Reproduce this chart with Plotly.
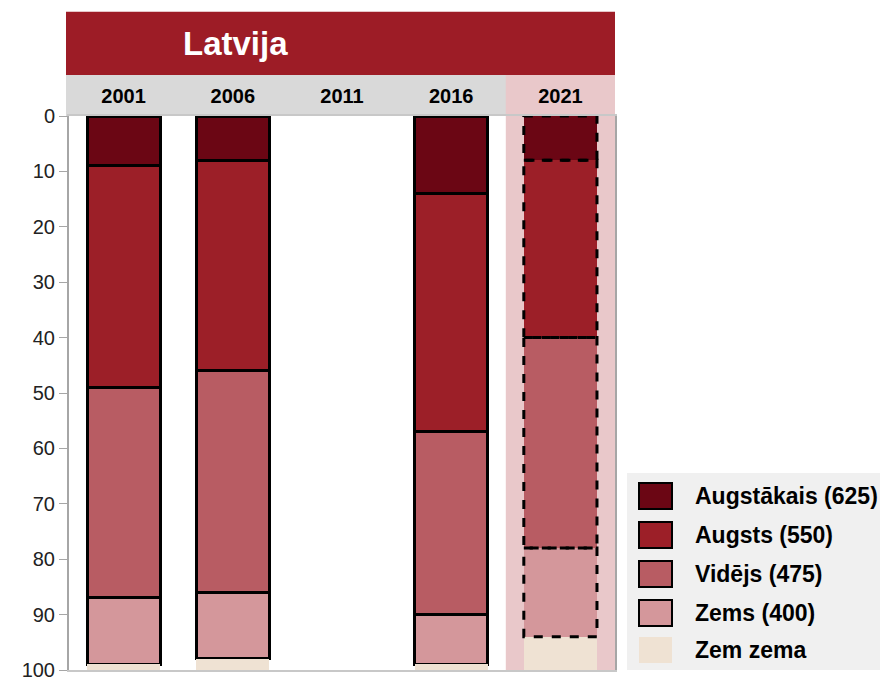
import plotly.graph_objects as go

years = ["2001", "2006", "2011", "2016", "2021"]
series_names = ["Augstākais (625)", "Augsts (550)", "Vidējs (475)", "Zems (400)", "Zem zema"]
augstakais = [9, 8, None, 14, 8]
augsts = [40, 38, None, 43, 32]
videjs = [38, 40, None, 33, 38]
zems = [12, 12, None, 9, 16]
zem_zema = [1, 2, None, 1, 6]
y_ticks = [0, 10, 20, 30, 40, 50, 60, 70, 80, 90, 100]

colors = ["#6b0614", "#9c1f28", "#b85c63", "#d4979b", "#efe2d3"]
series = [augstakais, augsts, videjs, zems, zem_zema]
dashed_year = "2021"
bar_w = 0.67

fig = go.Figure()
for name, vals, col in zip(series_names, series, colors):
    solid = [v if y != dashed_year else None for y, v in zip(years, vals)]
    dashed = [v if y == dashed_year else None for y, v in zip(years, vals)]
    has_border = name != "Zem zema"
    fig.add_trace(go.Bar(
        x=years, y=solid, name=name, marker_color=col, width=bar_w,
        marker_line=dict(color="#000000", width=3 if has_border else 0),
        showlegend=False, hoverinfo="skip"))
    fig.add_trace(go.Bar(
        x=years, y=dashed, name=name, marker_color=col, width=bar_w,
        marker_line=dict(width=0), showlegend=False, hoverinfo="skip"))

shapes = []
idx = years.index(dashed_year)
shapes.append(dict(type="rect", xref="x", yref="y", x0=idx - 0.5, x1=idx + 0.5,
                   y0=0, y1=100, fillcolor="#e9c8ca", line_width=0, layer="below"))
base = 0
for name, vals in zip(series_names, series):
    v = vals[idx]
    if name != "Zem zema":
        shapes.append(dict(type="rect", xref="x", yref="y",
                           x0=idx - bar_w / 2, x1=idx + bar_w / 2, y0=base, y1=base + v,
                           line=dict(color="#000000", width=3, dash="dash"),
                           fillcolor="rgba(0,0,0,0)", layer="above"))
    base += v

# header bands
shapes.append(dict(type="rect", xref="paper", yref="paper", x0=-0.0055, x1=1,
                   y0=1.0, y1=1.074, fillcolor="#d9d9d9", line_width=0, layer="below"))
shapes.append(dict(type="rect", xref="x", yref="paper", x0=idx - 0.5, x1=idx + 0.5,
                   y0=1.0, y1=1.074, fillcolor="#e9c8ca", line_width=0, layer="below"))
shapes.append(dict(type="rect", xref="paper", yref="paper", x0=-0.0055, x1=1,
                   y0=1.074, y1=1.188, fillcolor="#9d1c26", line_width=0, layer="below"))

annotations = [dict(text="Latvija", xref="paper", yref="paper", x=0.305, y=1.131,
                    xanchor="center", yanchor="middle", showarrow=False,
                    font=dict(family="Liberation Sans", size=33, color="white", weight="bold"))]

# manual legend (page pixel positions converted to paper coords)
lx0 = (627 - 69) / 546
lx1 = (888 - 69) / 546
def py(p):
    return (670 - p) / 554
shapes.append(dict(type="rect", xref="paper", yref="paper", x0=lx0, x1=lx1,
                   y0=py(670), y1=py(473), fillcolor="#f0f0f0", line_width=0, layer="below"))
row_centers = [496, 535, 574, 613, 650]
for name, col, rc in zip(series_names, colors, row_centers):
    border = name != "Zem zema"
    shapes.append(dict(type="rect", xref="paper", yref="paper",
                       x0=(639 - 69) / 546, x1=(672 - 69) / 546,
                       y0=py(rc + 13), y1=py(rc - 13), fillcolor=col,
                       line=dict(color="#000000" if border else col, width=2 if border else 0)))
    annotations.append(dict(text=name, xref="paper", yref="paper",
                            x=(693 - 69) / 546, y=py(rc), xanchor="left", yanchor="middle",
                            showarrow=False,
                            font=dict(family="Liberation Sans", size=23, color="#000000", weight="bold")))

fig.update_layout(
    barmode="stack", width=880, height=670,
    margin=dict(l=61, r=273, t=108, b=8, autoexpand=False),
    paper_bgcolor="white", plot_bgcolor="white",
    shapes=shapes, annotations=annotations, showlegend=False,
    xaxis=dict(type="category", categoryorder="array", categoryarray=years,
               side="top", showgrid=False, ticks="", showline=True, mirror=True,
               automargin=False,
               linecolor="#c8c8c8", linewidth=2, ticklabelstandoff=3,
               tickfont=dict(family="Liberation Sans", size=20, color="#000000", weight="bold")),
    yaxis=dict(range=[100, 0], tickvals=y_ticks, showgrid=False, zeroline=False,
               showline=True, linecolor="#a6a6a6", linewidth=2, mirror=True,
               ticks="outside", ticklen=8, tickcolor="#a6a6a6", tickwidth=1,
               ticklabeloverflow="allow", automargin=False,
               tickfont=dict(family="Liberation Sans", size=20, color="#222222")),
)

fig.write_html("out.html")
